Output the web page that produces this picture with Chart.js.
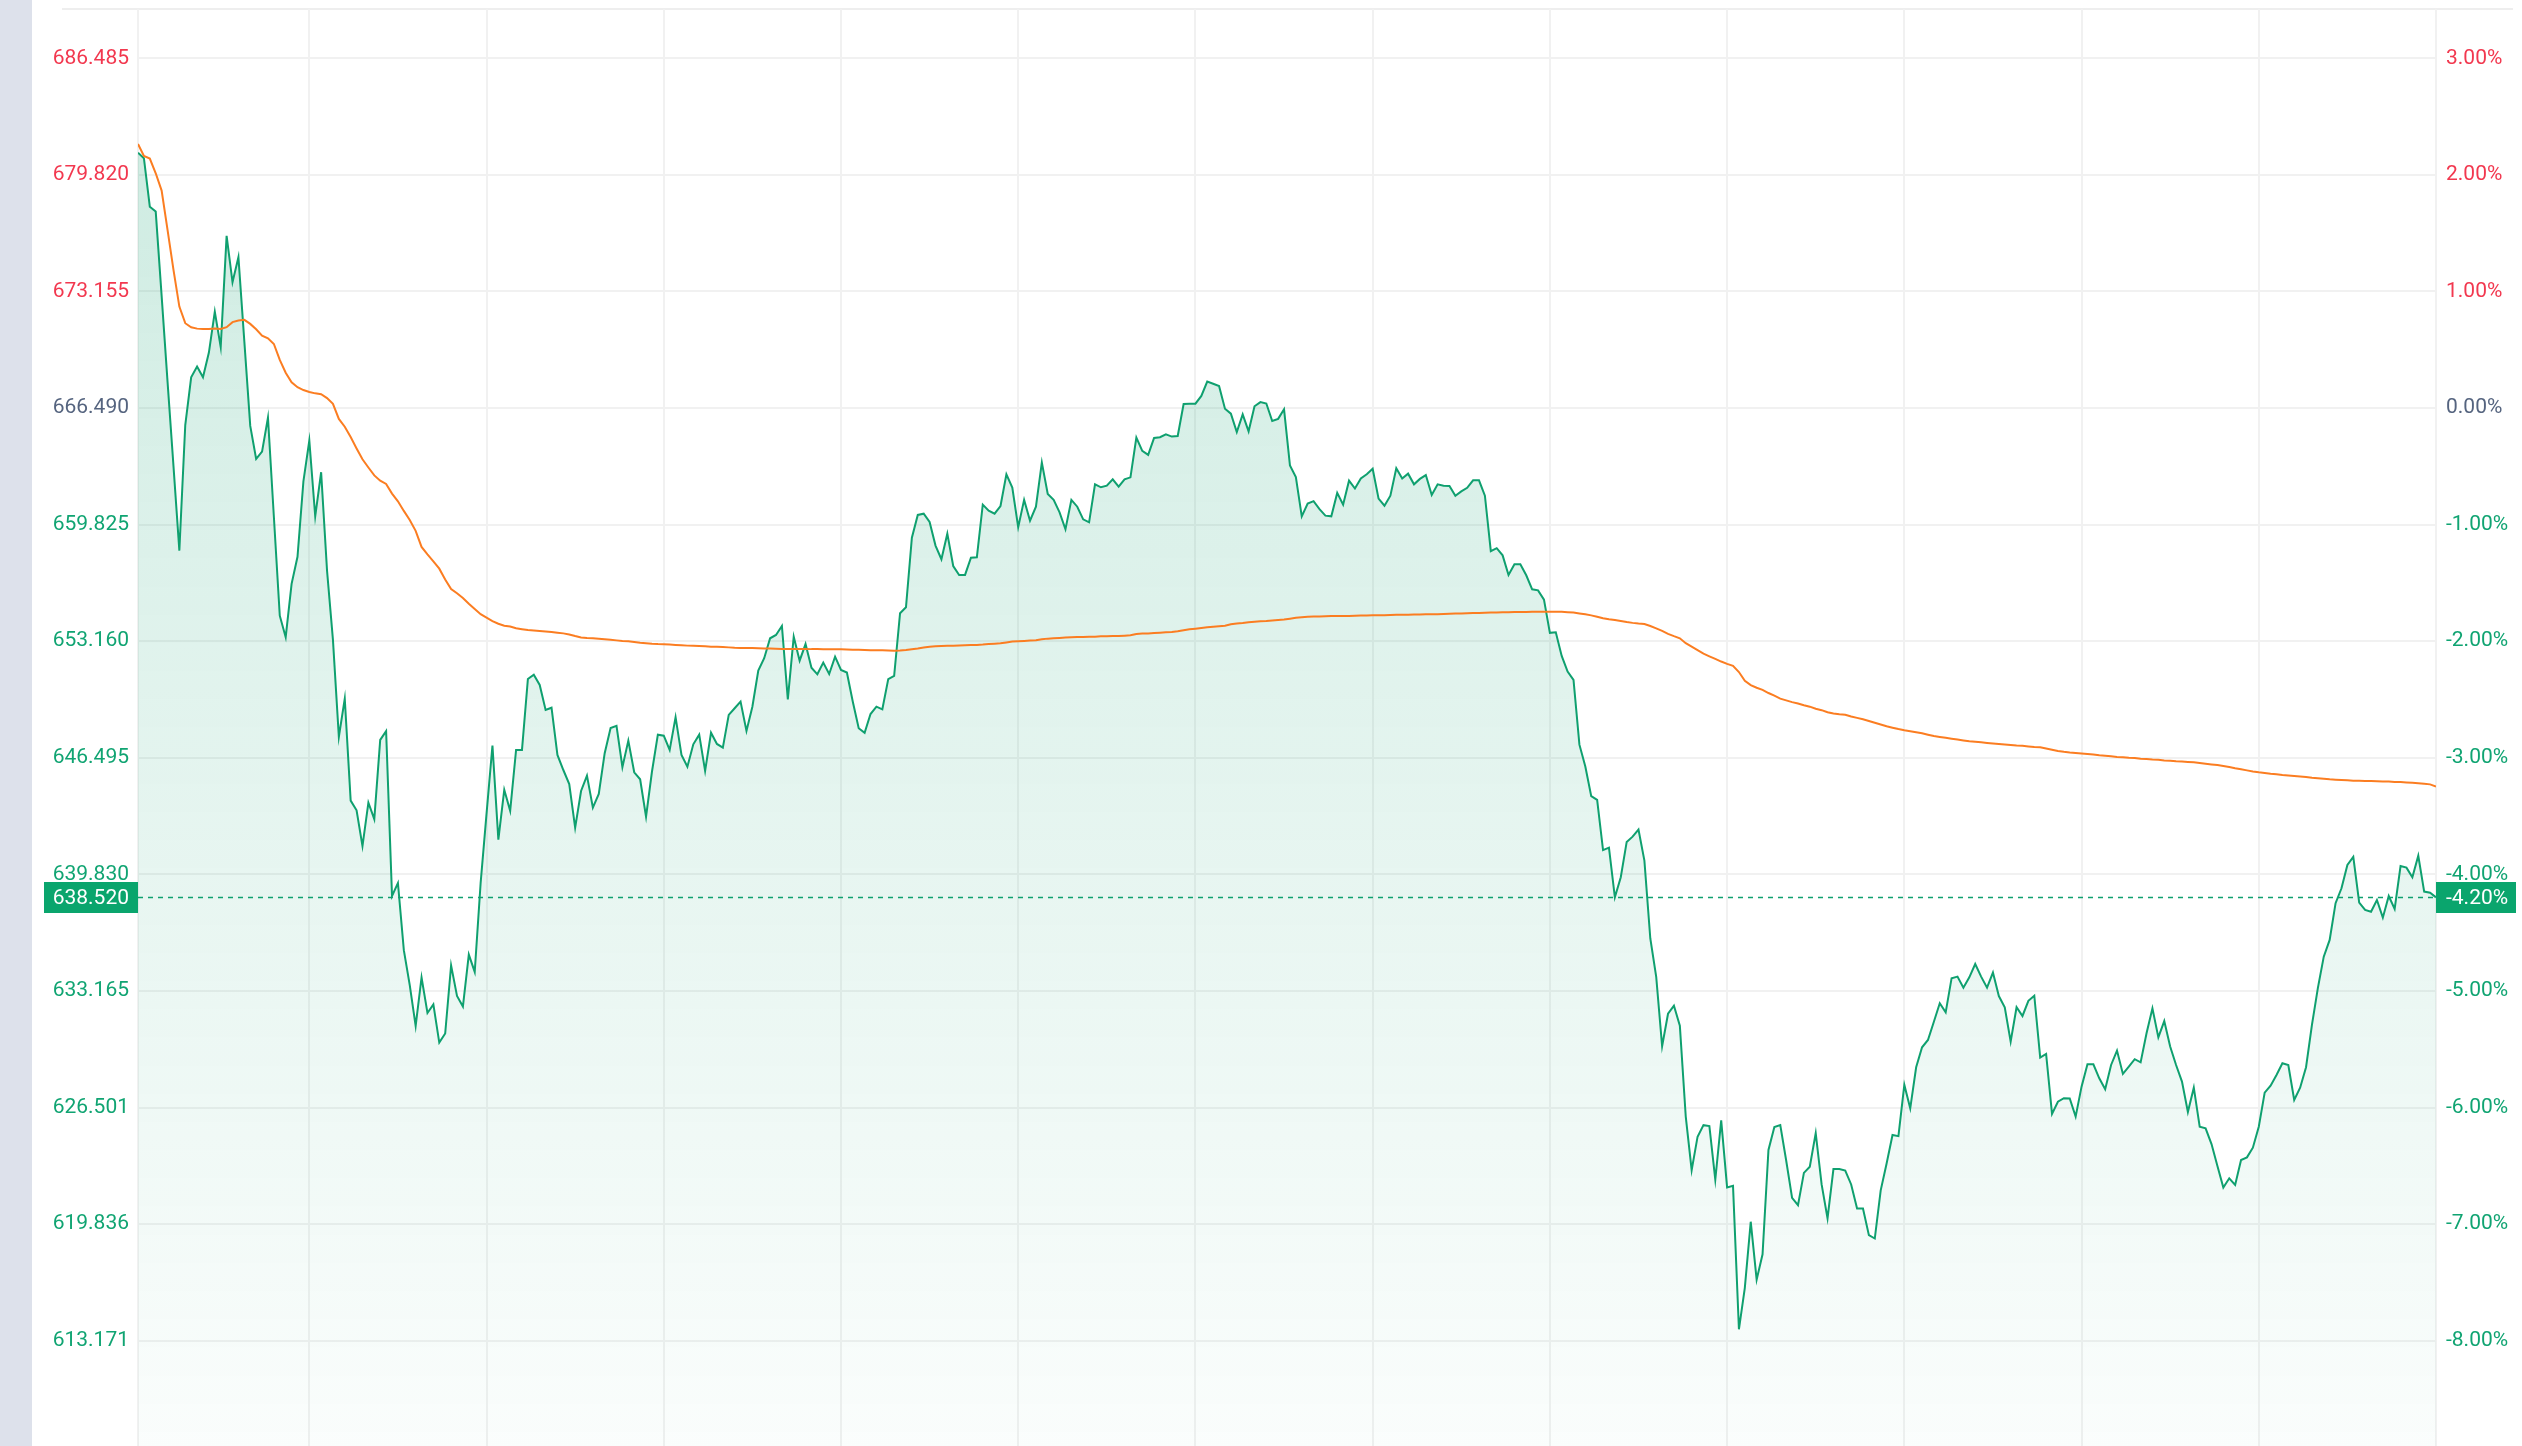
<!DOCTYPE html>
<html><head><meta charset="utf-8">
<script src="https://cdn.jsdelivr.net/npm/chart.js@4.4.1/dist/chart.umd.min.js"></script>
<style>html,body{margin:0;padding:0;background:#fff;overflow:hidden}canvas{display:block}</style>
</head><body><canvas id="c" width="2522" height="1446"></canvas>
<script>
// ---- data (one point per minute) ----
const prevClose = 666.49;
const lastPrice = 638.52;
const lastLabelLeft = '638.520';
const lastLabelRight = '-4.20%';
const yMin = 607.16;
const yMax = 689.30;
const gridMinutes = [0, 29, 59, 89, 119, 149, 179, 209, 239, 269, 299, 329, 359, 389];
const tickPercents = [3, 2, 1, 0, -1, -2, -3, -4, -5, -6, -7, -8];
const leftTickLabels = ['686.485','679.820','673.155','666.490','659.825','653.160','646.495','639.830','633.165','626.501','619.836','613.171'];
const rightTickLabels = ['3.00%','2.00%','1.00%','0.00%','-1.00%','-2.00%','-3.00%','-4.00%','-5.00%','-6.00%','-7.00%','-8.00%'];

const prices = [
681.09,680.77,678.0,677.72,672.9,668.0,663.2,658.34,665.52,668.25,
668.86,668.25,669.66,672.0,669.97,676.33,673.68,675.11,670.3,665.47,
663.58,664.0,665.94,660.28,654.62,653.39,656.44,657.99,662.3,664.63,
660.3,662.82,657.2,653.24,647.69,649.88,644.05,643.5,641.45,643.93,
642.99,647.52,648.02,638.6,639.34,635.5,633.5,631.17,633.94,631.91,
632.4,630.22,630.74,634.63,632.89,632.28,635.25,634.26,639.34,643.31,
647.2,641.82,644.67,643.47,646.95,646.95,651.0,651.25,650.66,649.23,
649.36,646.66,645.8,645.0,642.5,644.6,645.48,643.65,644.43,646.76,
648.2,648.32,645.96,647.48,645.67,645.27,643.13,645.7,647.82,647.76,
646.95,648.82,646.66,645.99,647.27,647.82,645.75,647.93,647.29,647.08,
648.95,649.33,649.71,648.03,649.42,651.48,652.19,653.33,653.52,654.03,
649.84,653.42,652.05,653.0,651.65,651.27,651.94,651.29,652.28,651.52,
651.37,649.7,648.19,647.93,649.0,649.42,649.27,651.0,651.18,654.76,
655.1,659.08,660.38,660.45,659.98,658.63,657.85,659.31,657.46,656.95,
656.95,657.94,657.96,660.97,660.62,660.45,660.89,662.7,661.94,659.68,
661.24,660.05,660.85,663.37,661.58,661.24,660.53,659.56,661.24,660.85,
660.13,659.96,662.13,661.96,662.05,662.42,662.0,662.42,662.53,664.8,
664.04,663.81,664.78,664.82,664.99,664.86,664.89,666.72,666.74,666.74,
667.18,668.0,667.88,667.75,666.45,666.17,665.12,666.13,665.16,666.59,
666.83,666.75,665.75,665.87,666.42,663.21,662.55,660.3,661.03,661.17,
660.71,660.34,660.3,661.64,660.97,662.34,661.89,662.46,662.71,663.02,
661.31,660.91,661.48,663.05,662.46,662.74,662.13,662.44,662.66,661.52,
662.13,662.05,662.03,661.48,661.73,661.93,662.36,662.36,661.48,658.31,
658.48,658.07,656.95,657.56,657.56,656.93,656.13,656.07,655.54,653.64,
653.67,652.32,651.43,650.95,647.25,646.0,644.31,644.09,641.22,641.36,
638.52,639.67,641.69,641.99,642.4,640.62,636.17,633.97,630.01,631.87,
632.33,631.19,625.99,622.93,624.84,625.5,625.45,622.38,625.77,621.94,
622.03,613.83,616.2,619.98,616.67,618.12,624.08,625.39,625.5,623.48,
621.34,620.93,622.77,623.12,625.04,622.11,620.17,622.99,622.99,622.9,
622.11,620.74,620.74,619.21,619.02,621.77,623.31,624.94,624.87,627.8,
626.46,628.81,629.95,630.37,631.41,632.47,631.95,633.9,633.99,633.36,
633.95,634.71,633.99,633.36,634.22,632.88,632.24,630.27,632.24,631.74,
632.61,632.9,629.36,629.57,626.14,626.84,627.04,627.02,625.99,627.7,
628.98,628.98,628.18,627.55,628.94,629.76,628.43,628.84,629.27,629.09,
630.75,632.18,630.52,631.45,629.99,628.94,627.99,626.25,627.64,625.41,
625.32,624.42,623.16,621.93,622.46,622.08,623.51,623.66,624.21,625.41,
627.36,627.76,628.37,629.04,628.94,626.94,627.64,628.81,631.23,633.33,
635.13,636.09,638.19,639.04,640.37,640.83,638.22,637.8,637.7,638.37,
637.36,638.6,637.86,640.31,640.22,639.67,640.9,638.85,638.79,638.52
];

const avgPrices = [
681.59,680.9,680.75,679.91,678.92,676.67,674.4,672.29,671.34,671.11,
671.03,671.01,671.01,671.03,671.01,671.11,671.4,671.49,671.53,671.3,
670.99,670.63,670.48,670.15,669.24,668.51,667.96,667.68,667.52,667.41,
667.33,667.28,667.06,666.73,665.87,665.42,664.83,664.18,663.56,663.09,
662.64,662.34,662.15,661.6,661.16,660.61,660.09,659.47,658.55,658.13,
657.73,657.31,656.69,656.15,655.9,655.63,655.3,655.0,654.71,654.51,
654.31,654.16,654.05,654.0,653.9,653.85,653.8,653.78,653.75,653.72,
653.69,653.65,653.61,653.55,653.46,653.38,653.35,653.33,653.3,653.27,
653.24,653.21,653.18,653.16,653.12,653.08,653.05,653.02,653.0,652.99,
652.97,652.95,652.93,652.91,652.9,652.89,652.87,652.85,652.84,652.83,
652.81,652.79,652.78,652.78,652.77,652.76,652.75,652.74,652.73,652.72,
652.72,652.72,652.72,652.72,652.71,652.71,652.7,652.7,652.7,652.7,
652.69,652.68,652.67,652.66,652.65,652.64,652.64,652.63,652.62,652.63,
652.66,652.7,652.74,652.8,652.85,652.87,652.89,652.9,652.91,652.92,
652.93,652.94,652.95,652.97,653.0,653.02,653.04,653.09,653.14,653.16,
653.18,653.2,653.22,653.27,653.31,653.33,653.35,653.37,653.39,653.4,
653.41,653.42,653.42,653.44,653.45,653.46,653.46,653.48,653.5,653.58,
653.6,653.61,653.63,653.65,653.67,653.69,653.73,653.79,653.84,653.88,
653.92,653.96,653.99,654.02,654.05,654.13,654.17,654.2,654.24,654.27,
654.3,654.32,654.35,654.38,654.4,654.45,654.5,654.53,654.56,654.57,
654.58,654.59,654.6,654.6,654.61,654.61,654.62,654.63,654.63,654.64,
654.65,654.65,654.66,654.67,654.67,654.68,654.69,654.69,654.7,654.71,
654.71,654.72,654.73,654.74,654.75,654.76,654.77,654.78,654.79,654.8,
654.81,654.82,654.82,654.83,654.83,654.83,654.84,654.84,654.84,654.84,
654.84,654.84,654.82,654.8,654.75,654.7,654.64,654.56,654.48,654.42,
654.37,654.32,654.26,654.21,654.17,654.14,654.03,653.9,653.75,653.58,
653.45,653.33,653.05,652.85,652.65,652.45,652.3,652.15,652.0,651.87,
651.75,651.4,650.9,650.65,650.5,650.38,650.2,650.05,649.88,649.78,
649.68,649.6,649.5,649.42,649.3,649.22,649.1,649.03,648.99,648.96,
648.86,648.78,648.7,648.6,648.5,648.4,648.3,648.22,648.14,648.07,
648.02,647.96,647.9,647.82,647.74,647.69,647.64,647.59,647.54,647.49,
647.44,647.41,647.38,647.35,647.32,647.29,647.26,647.23,647.2,647.18,
647.15,647.12,647.1,647.03,646.96,646.89,646.84,646.8,646.77,646.74,
646.71,646.68,646.64,646.61,646.58,646.55,646.53,646.5,646.48,646.45,
646.43,646.4,646.38,646.35,646.33,646.3,646.28,646.26,646.24,646.2,
646.16,646.12,646.08,646.03,645.97,645.9,645.84,645.78,645.72,645.67,
645.63,645.59,645.56,645.52,645.49,645.46,645.43,645.4,645.36,645.33,
645.3,645.27,645.25,645.23,645.21,645.19,645.18,645.17,645.17,645.16,
645.15,645.14,645.12,645.11,645.09,645.07,645.05,645.02,644.98,644.86
];

// ---- styles ----
const GREEN = '#0fa06f';
const BOX_GREEN = '#0aa56d';
const ORANGE = '#fb7d21';
const RED_TXT = '#f2384f';
const GREY_TXT = '#55647f';
const GREEN_TXT = '#10a472';
const GRID = '#f1f1f1';
const FONT = {family: 'Roboto', size: 21};

function tickColor(v) {
  if (Math.abs(v - prevClose) < 0.001) return GREY_TXT;
  return v > prevClose ? RED_TXT : GREEN_TXT;
}
function setTicks(s) { s.ticks = tickPercents.map(p => ({value: prevClose * (1 + p / 100)})); }
function fitY(width) {
  return s => { s.width = width; s.paddingTop = 0; s.paddingBottom = 0; };
}

const deco = {
  id: 'deco',
  beforeDraw(chart) {
    const {ctx, chartArea: a} = chart;
    ctx.save();
    ctx.fillStyle = '#dde1eb';
    ctx.fillRect(0, 0, 32, chart.height);
    ctx.strokeStyle = '#eeeeee';
    ctx.lineWidth = 2;
    ctx.beginPath(); ctx.moveTo(62, a.top); ctx.lineTo(2513, a.top); ctx.stroke();
    ctx.restore();
  },
  afterDraw(chart) {
    const {ctx, chartArea: a, scales} = chart;
    const y = Math.round(scales.y.getPixelForValue(lastPrice)) + 0.5;
    ctx.save();
    ctx.strokeStyle = GREEN; ctx.lineWidth = 1.5; ctx.setLineDash([5, 5]);
    ctx.beginPath(); ctx.moveTo(a.left, y); ctx.lineTo(a.right, y); ctx.stroke();
    ctx.setLineDash([]);
    ctx.fillStyle = BOX_GREEN;
    ctx.fillRect(44, y - 15.5, a.left - 44, 31);
    ctx.fillRect(a.right, y - 15.5, 80, 31);
    ctx.fillStyle = '#ffffff';
    ctx.font = '21px Roboto';
    ctx.textBaseline = 'middle';
    ctx.textAlign = 'right'; ctx.fillText(lastLabelLeft, 129, y + 1);
    ctx.textAlign = 'left'; ctx.fillText(lastLabelRight, a.right + 10, y + 1);
    ctx.restore();
  }
};

new Chart(document.getElementById('c'), {
  type: 'line',
  data: {
    datasets: [
      {
        data: prices.map((v, i) => ({x: i, y: v})),
        borderColor: GREEN, borderWidth: 2, pointRadius: 0, tension: 0,
        fill: 'start', order: 2,
        backgroundColor: (c) => {
          const a = c.chart.chartArea;
          if (!a) return 'rgba(15,160,111,0.1)';
          const g = c.chart.ctx.createLinearGradient(0, a.top, 0, a.bottom);
          g.addColorStop(0, 'rgba(15,160,111,0.22)');
          g.addColorStop(1, 'rgba(15,160,111,0.02)');
          return g;
        }
      },
      {
        data: avgPrices.map((v, i) => ({x: i, y: v})),
        borderColor: ORANGE, borderWidth: 2, pointRadius: 0, tension: 0,
        fill: false, order: 1
      }
    ]
  },
  options: {
    responsive: false, animation: false, devicePixelRatio: 1,
    layout: {padding: {top: 9, left: 0, right: 0, bottom: 0}, autoPadding: false},
    plugins: {legend: {display: false}, tooltip: {enabled: false}},
    scales: {
      x: {
        type: 'linear', min: 0, max: 389,
        afterBuildTicks: s => { s.ticks = gridMinutes.map(v => ({value: v})); },
        ticks: {display: false, padding: 0},
        grid: {color: GRID, lineWidth: 2, drawTicks: false},
        border: {display: false},
        afterFit: s => { s.height = 0; s.paddingLeft = 0; s.paddingRight = 0; }
      },
      y: {
        position: 'left', min: yMin, max: yMax,
        afterBuildTicks: setTicks,
        ticks: {callback: (v, i) => leftTickLabels[i], color: c => tickColor(c.tick.value), font: FONT, padding: 9, autoSkip: false},
        grid: {color: GRID, lineWidth: 2, drawTicks: false},
        border: {display: false},
        afterFit: fitY(138)
      },
      y2: {
        position: 'right', min: yMin, max: yMax,
        afterBuildTicks: setTicks,
        ticks: {callback: (v, i) => rightTickLabels[i], color: c => tickColor(c.tick.value), font: FONT, padding: 10, autoSkip: false},
        grid: {display: false, drawTicks: false},
        border: {display: false},
        afterFit: fitY(86)
      }
    }
  },
  plugins: [deco]
});
</script>
</body></html>
